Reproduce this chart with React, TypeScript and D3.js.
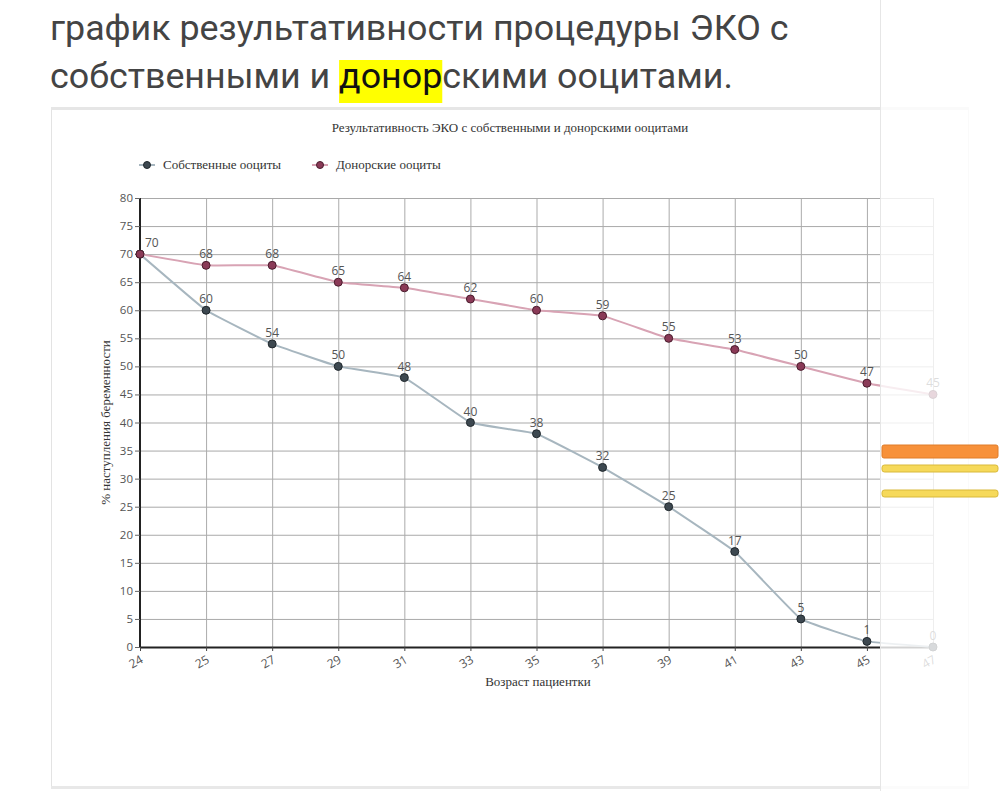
import React, { useLayoutEffect, useRef, useState } from "react";
import * as d3 from "d3";

const ages = ["24", "25", "27", "29", "31", "33", "35", "37", "39", "41", "43", "45", "47"];
const ownValues = [70, 60, 54, 50, 48, 40, 38, 32, 25, 17, 5, 1, 0];
const donorValues = [70, 68, 68, 65, 64, 62, 60, 59, 55, 53, 50, 47, 45];
const yTicks = d3.range(0, 85, 5);
const headingLine1 = "график результативности процедуры ЭКО с";
const headingLine2a = "собственными и ";
const headingHighlight = "донор";
const headingLine2b = "скими ооцитами.";
const chartTitle = "Результативность ЭКО с собственными и донорскими ооцитами";
const seriesNames = ["Собственные ооциты", "Донорские ооциты"];
const yTitle = "% наступления беременности";
const xTitle = "Возраст пациентки";

const W = 1000;
const H = 791;
const plot = { left: 140, right: 933, top: 198, bottom: 647 };

const serif = "'Liberation Serif', 'DejaVu Serif', serif";
const sans = "'Open Sans', 'Noto Sans', sans-serif";

const ownLine = "#a7b6bf";
const ownMarker = "#3d4850";
const donorLine = "#d8a3b4";
const donorMarker = "#8a3a57";

export default function App() {
  const line2Ref = useRef<SVGTextElement>(null);
  const [hl, setHl] = useState<{ x: number; w: number } | null>(null);

  useLayoutEffect(() => {
    const el = line2Ref.current;
    if (!el) return;
    try {
      const start = el.getSubStringLength(0, headingLine2a.length);
      const w = el.getSubStringLength(headingLine2a.length, headingHighlight.length);
      setHl({ x: 50 + start, w });
    } catch (e) {
      setHl(null);
    }
  }, []);

  const x = d3
    .scalePoint<string>()
    .domain(ages)
    .range([plot.left, plot.right]);
  const y = d3.scaleLinear().domain([0, 80]).range([plot.bottom, plot.top]);

  const lineGen = d3
    .line<number>()
    .x((_, i) => x(ages[i]) as number)
    .y((d) => y(d))
    .curve(d3.curveCardinal.tension(0.75));

  const series = [
    { name: seriesNames[0], values: ownValues, other: donorValues, line: ownLine, marker: ownMarker, stroke: "#1f272c" },
    { name: seriesNames[1], values: donorValues, other: null as number[] | null, line: donorLine, marker: donorMarker, stroke: "#4a1c2d" },
  ];

  return (
    <svg
      width={W}
      height={H}
      style={{ position: "absolute", left: 0, top: 0, background: "#fff" }}
    >
      {/* heading */}
      {hl && (
        <rect x={hl.x} y={60} width={hl.w} height={43} fill="#ffff00" />
      )}
      <text x={50} y={40} fontFamily="Roboto, sans-serif" fontSize={35.8} fill="#444">
        {headingLine1}
      </text>
      <text ref={line2Ref} x={50} y={88} fontFamily="Roboto, sans-serif" fontSize={35.8} fill="#444">
        {headingLine2a}
        <tspan fill="#111">{headingHighlight}</tspan>
        {headingLine2b}
      </text>

      {/* chart card */}
      <rect x={51.5} y={108.5} width={917} height={680} fill="#fff" stroke="#e3e3e3" />
      <rect x={51} y={107} width={918} height={3} fill="#e6e6e6" />
      <rect x={51} y={786} width={918} height={3} fill="#e8e8e8" />

      <text x={510} y={132} textAnchor="middle" fontFamily={serif} fontSize={13} fill="#333">
        {chartTitle}
      </text>

      {/* legend */}
      {series.map((s, i) => {
        const cx = i === 0 ? 147 : 320;
        return (
          <g key={s.name}>
            <line x1={cx - 8} x2={cx + 8} y1={165} y2={165} stroke={s.line} strokeWidth={2} />
            <circle cx={cx} cy={165} r={3.5} fill={s.marker} stroke={s.stroke} strokeWidth={1} />
            <text x={cx + 16} y={169} fontFamily={serif} fontSize={13} fill="#333">
              {s.name}
            </text>
          </g>
        );
      })}

      {/* grid */}
      <g>
        {yTicks.map((t) => (
          <line
            key={"h" + t}
            x1={plot.left}
            x2={plot.right}
            y1={y(t) + 0.5}
            y2={y(t) + 0.5}
            stroke="#a9a9a9"
            strokeWidth={1}
          />
        ))}
        {ages.map((a) => (
          <line
            key={"v" + a}
            x1={(x(a) as number) + 0.5}
            x2={(x(a) as number) + 0.5}
            y1={plot.top}
            y2={plot.bottom}
            stroke="#ababab"
            strokeWidth={1}
          />
        ))}
      </g>

      {/* axes */}
      <line x1={plot.left} x2={plot.left} y1={plot.top} y2={plot.bottom + 1} stroke="#222" strokeWidth={2} />
      <line x1={plot.left} x2={plot.right} y1={plot.bottom + 0.5} y2={plot.bottom + 0.5} stroke="#222" strokeWidth={2} />
      {yTicks.map((t) => (
        <g key={"yt" + t}>
          <line x1={plot.left - 5} x2={plot.left} y1={y(t) + 0.5} y2={y(t) + 0.5} stroke="#666" />
          <text
            x={plot.left - 7}
            y={y(t) + 4}
            textAnchor="end"
            fontFamily={sans}
            fontSize={11.5}
            fill="#555"
          >
            {t}
          </text>
        </g>
      ))}
      {ages.map((a) => {
        const xx = x(a) as number;
        return (
          <g key={"xt" + a}>
            <line x1={xx + 0.5} x2={xx + 0.5} y1={plot.bottom} y2={plot.bottom + 4} stroke="#444" />
            <text
              transform={`translate(${xx + 4},${plot.bottom + 15}) rotate(-30)`}
              textAnchor="end"
              fontFamily={sans}
              fontSize={12}
              fill="#555"
            >
              {a}
            </text>
          </g>
        );
      })}

      <text
        transform={`translate(110,${(plot.top + plot.bottom) / 2}) rotate(-90)`}
        textAnchor="middle"
        fontFamily={serif}
        fontSize={13}
        fill="#333"
      >
        {yTitle}
      </text>
      <text x={538} y={686} textAnchor="middle" fontFamily={serif} fontSize={13} fill="#333">
        {xTitle}
      </text>

      {/* series */}
      {series.map((s) => (
        <g key={"s" + s.name}>
          <path d={lineGen(s.values) || ""} fill="none" stroke={s.line} strokeWidth={2} />
          {s.values.map((v, i) => (
            <circle
              key={i}
              cx={x(ages[i]) as number}
              cy={y(v)}
              r={4}
              fill={s.marker}
              stroke={s.stroke}
              strokeWidth={1}
            />
          ))}
          {s.values.map((v, i) =>
            s.other && s.other[i] === v ? null : (
              <text
                key={"l" + i}
                x={(x(ages[i]) as number) + (i === 0 ? 5 : 0)}
                y={y(v) - 7}
                textAnchor={i === 0 ? "start" : "middle"}
                fontFamily={sans}
                fontSize={12}
                fill="#555"
              >
                {v}
              </text>
            )
          )}
        </g>
      ))}

      {/* right overlay panel */}
      <rect x={880} y={0} width={120} height={H} fill="#ffffff" fillOpacity={0.8} />
      <line x1={880.5} x2={880.5} y1={0} y2={H} stroke="#e6e6e6" />
      <rect x={882} y={445} width={116} height={13} rx={2} fill="#f7913a" stroke="#e07c28" />
      <rect x={882} y={465} width={116} height={7} rx={2.5} fill="#f6d95a" stroke="#d9b93a" />
      <rect x={882} y={490} width={116} height={7} rx={2.5} fill="#f6d95a" stroke="#d9b93a" />
    </svg>
  );
}
